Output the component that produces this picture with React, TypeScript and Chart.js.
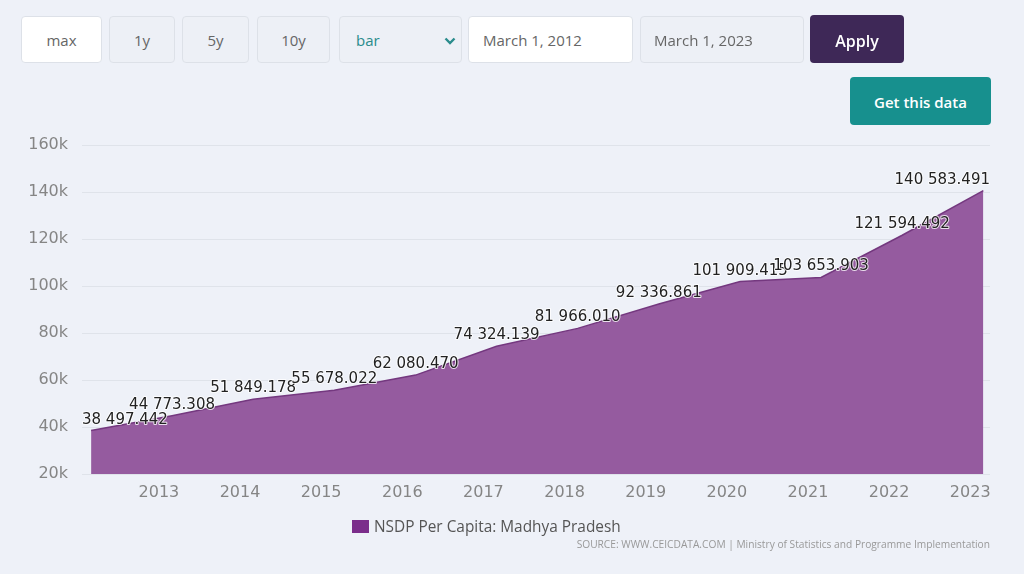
import React, { useEffect, useRef } from "react";
import { Chart, registerables } from "chart.js";

Chart.register(...registerables);

// NSDP per capita, Madhya Pradesh (annual, observation dated March 1)
const periods = [
  "2012-03-01", "2013-03-01", "2014-03-01", "2015-03-01", "2016-03-01", "2017-03-01",
  "2018-03-01", "2019-03-01", "2020-03-01", "2021-03-01", "2022-03-01", "2023-03-01",
];
const nsdpPerCapita = [
  38497.442, 44773.308, 51849.178, 55678.022, 62080.47, 74324.139,
  81966.01, 92336.861, 101909.415, 103653.903, 121594.492, 140583.491,
];
const seriesName = "NSDP Per Capita: Madhya Pradesh";
const rangeStart = "2012-01-20";
const rangeEnd = "2023-03-31";
const yMin = 20000;
const yMax = 160000;
const yStep = 20000;
const rangeButtons = ["max", "1y", "5y", "10y"];
const sourceText = "SOURCE: WWW.CEICDATA.COM | Ministry of Statistics and Programme Implementation";

const PAGE_BG = "#eef1f8";
const AREA_FILL = "#955b9f";
const AREA_LINE = "#74387f";

// ISO date -> fractional year for the linear time axis
const toYear = (iso: string) => {
  const [y, m, d] = iso.split("-").map(Number);
  const start = Date.UTC(y, 0, 1);
  const end = Date.UTC(y + 1, 0, 1);
  return y + (Date.UTC(y, m - 1, d) - start) / (end - start);
};

const formatValue = (v: number) => {
  const [int, dec] = v.toFixed(3).split(".");
  return int.replace(/\B(?=(\d{3})+(?!\d))/g, " ") + "." + dec;
};

const valueLabels = {
  id: "valueLabels",
  afterDatasetsDraw(chart: any) {
    const { ctx, chartArea } = chart;
    const meta = chart.getDatasetMeta(0);
    const values = chart.data.datasets[0].data;
    ctx.save();
    ctx.font = '15px "DejaVu Sans"';
    ctx.textAlign = "left";
    ctx.textBaseline = "alphabetic";
    ctx.lineJoin = "round";
    meta.data.forEach((pt: any, i: number) => {
      const text = formatValue(values[i].y);
      const w = ctx.measureText(text).width;
      let x = pt.x - w / 2;
      x = Math.max(chartArea.left, Math.min(x, chartArea.right - w));
      const y = pt.y - 7;
      ctx.strokeStyle = "rgba(255,255,255,0.8)";
      ctx.lineWidth = 2;
      ctx.strokeText(text, x, y);
      ctx.fillStyle = "#222";
      ctx.fillText(text, x, y);
    });
    ctx.restore();
  },
};

const btnBase: React.CSSProperties = {
  position: "absolute",
  boxSizing: "border-box",
  display: "flex",
  alignItems: "center",
  borderRadius: 4,
  fontFamily: '"Open Sans", sans-serif',
  fontSize: 15,
  color: "#666",
};

function Toolbar() {
  const lefts = [21, 109, 182, 257];
  const widths = [81, 66, 67, 73];
  return (
    <>
      {rangeButtons.map((label, i) => (
        <div
          key={label}
          style={{
            ...btnBase,
            left: lefts[i],
            top: 16,
            width: widths[i],
            height: 47,
            justifyContent: "center",
            background: i === 0 ? "#ffffff" : "#edf0f6",
            border: "1px solid #dde1e8",
          }}
        >
          {label}
        </div>
      ))}
      <div
        style={{
          ...btnBase,
          left: 339,
          top: 16,
          width: 123,
          height: 47,
          paddingLeft: 16,
          background: "#edf0f6",
          border: "1px solid #dde1e8",
          color: "#2a8c8c",
        }}
      >
        bar
        <svg width="12" height="8" style={{ position: "absolute", left: 104, top: 20 }}>
          <polyline points="1.5,1.5 6,6 10.5,1.5" fill="none" stroke="#2a8c8c" strokeWidth="2.4" />
        </svg>
      </div>
      <div
        style={{
          ...btnBase,
          left: 468,
          top: 16,
          width: 165,
          height: 47,
          paddingLeft: 14,
          background: "#ffffff",
          border: "1px solid #dde1e8",
        }}
      >
        March 1, 2012
      </div>
      <div
        style={{
          ...btnBase,
          left: 640,
          top: 16,
          width: 164,
          height: 47,
          paddingLeft: 13,
          background: "#edf0f6",
          border: "1px solid #dde1e8",
        }}
      >
        March 1, 2023
      </div>
      <div
        style={{
          ...btnBase,
          left: 810,
          top: 15,
          width: 94,
          height: 48,
          paddingTop: 4,
          justifyContent: "center",
          background: "#3e2857",
          color: "#ffffff",
          fontSize: 16,
          fontWeight: 600,
        }}
      >
        Apply
      </div>
      <div
        style={{
          ...btnBase,
          left: 850,
          top: 77,
          width: 141,
          height: 48,
          paddingTop: 2,
          justifyContent: "center",
          background: "#17908e",
          color: "#ffffff",
          fontSize: 15,
          fontWeight: 600,
        }}
      >
        Get this data
      </div>
    </>
  );
}

export default function App() {
  const canvasRef = useRef<HTMLCanvasElement | null>(null);

  useEffect(() => {
    if (!canvasRef.current) return;
    const chart = new Chart(canvasRef.current, {
      type: "line",
      data: {
        datasets: [
          {
            label: seriesName,
            data: periods.map((p, i) => ({ x: toYear(p), y: nsdpPerCapita[i] })),
            borderColor: AREA_LINE,
            borderWidth: 1.5,
            backgroundColor: AREA_FILL,
            fill: "start",
            pointRadius: 0,
            tension: 0,
          },
        ],
      },
      options: {
        responsive: false,
        animation: false,
        layout: { padding: { left: 0, top: 145, right: 34, bottom: 70 } },
        plugins: { legend: { display: false }, tooltip: { enabled: false } },
        scales: {
          x: {
            type: "linear",
            min: toYear(rangeStart),
            max: toYear(rangeEnd),
            grid: { display: false, drawTicks: false },
            border: { display: false },
            ticks: {
              stepSize: 1,
              includeBounds: false,
              autoSkip: false,
              maxRotation: 0,
              padding: 9,
              color: "#858585",
              font: { family: '"DejaVu Sans"', size: 16 },
              callback: (v: any) => String(Math.round(Number(v))),
            },
            afterFit: (scale: any) => {
              scale.height = 30;
            },
          },
          y: {
            min: yMin,
            max: yMax,
            grid: { color: "#dfe3ea", lineWidth: 1, drawTicks: false },
            border: { display: false },
            ticks: {
              stepSize: yStep,
              padding: 14,
              color: "#858585",
              font: { family: '"DejaVu Sans"', size: 16 },
              callback: (v: any) => Number(v) / 1000 + "k",
            },
            afterFit: (scale: any) => {
              scale.width = 82;
            },
          },
        },
      },
      plugins: [valueLabels],
    });
    return () => chart.destroy();
  }, []);

  return (
    <div
      style={{
        position: "fixed",
        left: 0,
        top: 0,
        width: 1024,
        height: 574,
        overflow: "hidden",
        background: PAGE_BG,
      }}
    >
      <canvas
        ref={canvasRef}
        width={1024}
        height={574}
        style={{ position: "absolute", left: 0, top: 0, width: 1024, height: 574 }}
      />
      <Toolbar />
      <div
        style={{
          position: "absolute",
          left: 352,
          top: 516,
          display: "flex",
          alignItems: "center",
          fontFamily: '"Open Sans", sans-serif',
          fontSize: 15.4,
          color: "#555",
          whiteSpace: "nowrap",
        }}
      >
        <span style={{ display: "inline-block", width: 17, height: 13, background: "#7b2d8b", marginRight: 5 }} />
        {seriesName}
      </div>
      <div
        style={{
          position: "absolute",
          right: 34,
          top: 537,
          fontFamily: '"Open Sans", sans-serif',
          fontSize: 10.2,
          color: "#999",
          whiteSpace: "nowrap",
        }}
      >
        {sourceText}
      </div>
    </div>
  );
}
